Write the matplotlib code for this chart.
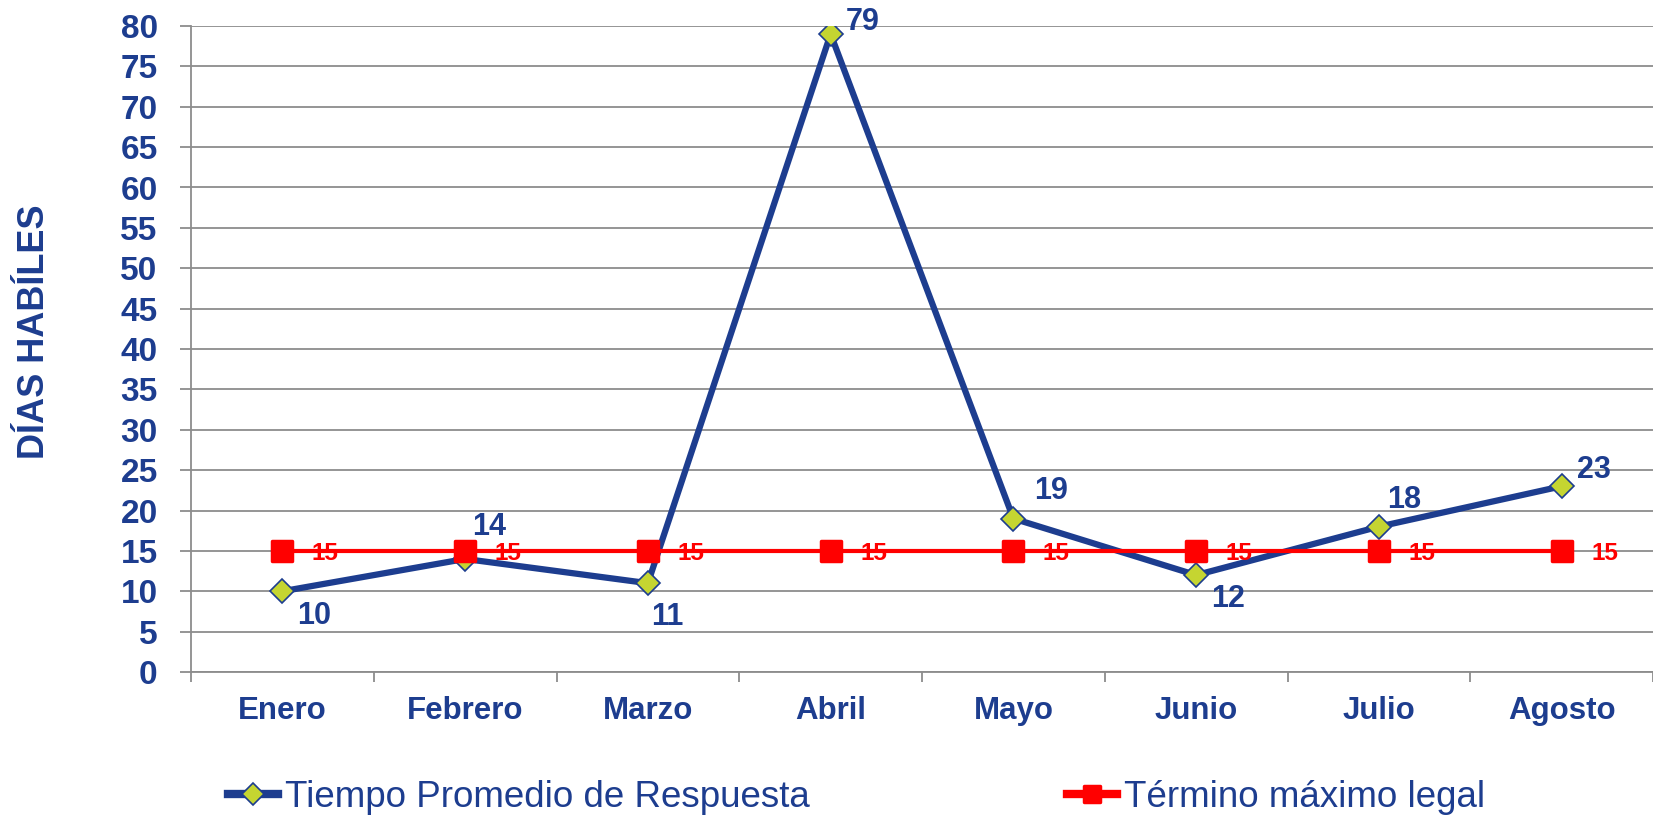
import matplotlib.pyplot as plt
from matplotlib.markers import MarkerStyle
import numpy as np

# data
meses = ['Enero', 'Febrero', 'Marzo', 'Abril', 'Mayo', 'Junio', 'Julio', 'Agosto']
tiempo_promedio = [10, 14, 11, 79, 19, 12, 18, 23]
termino_legal = [15, 15, 15, 15, 15, 15, 15, 15]
y_ticks = list(range(0, 81, 5))

# label offsets (points), moved by hand like in the original sheet
label_off = [(23, -18), (17, 23), (14, -24), (23, 9), (27, 20), (23, -17), (18, 19), (23, 12)]

azul = '#1D3D8F'
rojo = '#FF0000'
verde = '#C5D531'
gris = '#8C8C8C'

plt.rcParams['font.family'] = ['Liberation Sans', 'DejaVu Sans']

fig = plt.figure(figsize=(16.53, 8.21), dpi=100)
ax = fig.add_axes([191 / 1653, 1 - 672 / 821, (1653 - 191) / 1653, (672 - 26) / 821])

x = np.arange(len(meses))

l1, = ax.plot(x, tiempo_promedio, color=azul, lw=4.5, marker='D', markersize=12.5,
              markerfacecolor=verde, markeredgecolor=azul, markeredgewidth=1.2,
              zorder=3, label='Tiempo Promedio de Respuesta')
l2, = ax.plot(x, termino_legal, color=rojo, lw=3, marker=MarkerStyle('s', joinstyle='round'),
              markersize=14, markerfacecolor=rojo, markeredgecolor=rojo, markeredgewidth=2.5,
              zorder=4, label='Término máximo legal')

for xi, v, off in zip(x, tiempo_promedio, label_off):
    ax.annotate(str(v), (xi, v), xytext=off, textcoords='offset points',
                ha='center', va='center', fontsize=22, fontweight='bold',
                color=azul, zorder=6)

for xi, v in zip(x, termino_legal):
    ax.annotate(str(v), (xi, v), xytext=(31, -2), textcoords='offset points',
                ha='center', va='center', fontsize=17.5, fontweight='bold',
                color=rojo, zorder=5)

ax.set_xlim(-0.5, len(meses) - 0.5)
ax.set_ylim(0, 80)
ax.set_yticks(y_ticks)
ax.set_yticklabels([str(t) for t in y_ticks], fontsize=24, fontweight='bold', color=azul)
ax.set_xticks(x)
ax.set_xticklabels(meses, fontsize=22.5, fontweight='bold', color=azul)
ax.set_xticks(np.arange(len(meses) + 1) - 0.5, minor=True)

ax.tick_params(axis='y', length=8, width=1.3, color=gris, pad=16)
ax.tick_params(axis='x', which='major', length=0, pad=17)
ax.tick_params(axis='x', which='minor', length=7, width=1.3, color=gris)

ax.grid(axis='y', color=gris, lw=1.3)
ax.set_axisbelow(True)
for s in ['top', 'right']:
    ax.spines[s].set_visible(False)
ax.spines['left'].set_color(gris)
ax.spines['bottom'].set_color(gris)
ax.spines['left'].set_linewidth(1.3)
ax.spines['bottom'].set_linewidth(1.3)

fig.text(35 / 1653, 1 - 332 / 821, 'DÍAS HABÍLES', rotation=90, ha='center', va='center',
         fontsize=26, fontweight='bold', color=azul)

leg = fig.legend(handles=[l1, l2], loc='center left', bbox_to_anchor=(228 / 1653, 1 - 797 / 821),
                 ncol=2, frameon=False, fontsize=26.5, borderpad=0, borderaxespad=0,
                 handlelength=1.35, handletextpad=0.2, columnspacing=7.0)
for t in leg.get_texts():
    t.set_color(azul)
for h in leg.legend_handles:
    h.set_linewidth(6)
    h.set_markersize(11)

fig.savefig('out.png', dpi=100)
